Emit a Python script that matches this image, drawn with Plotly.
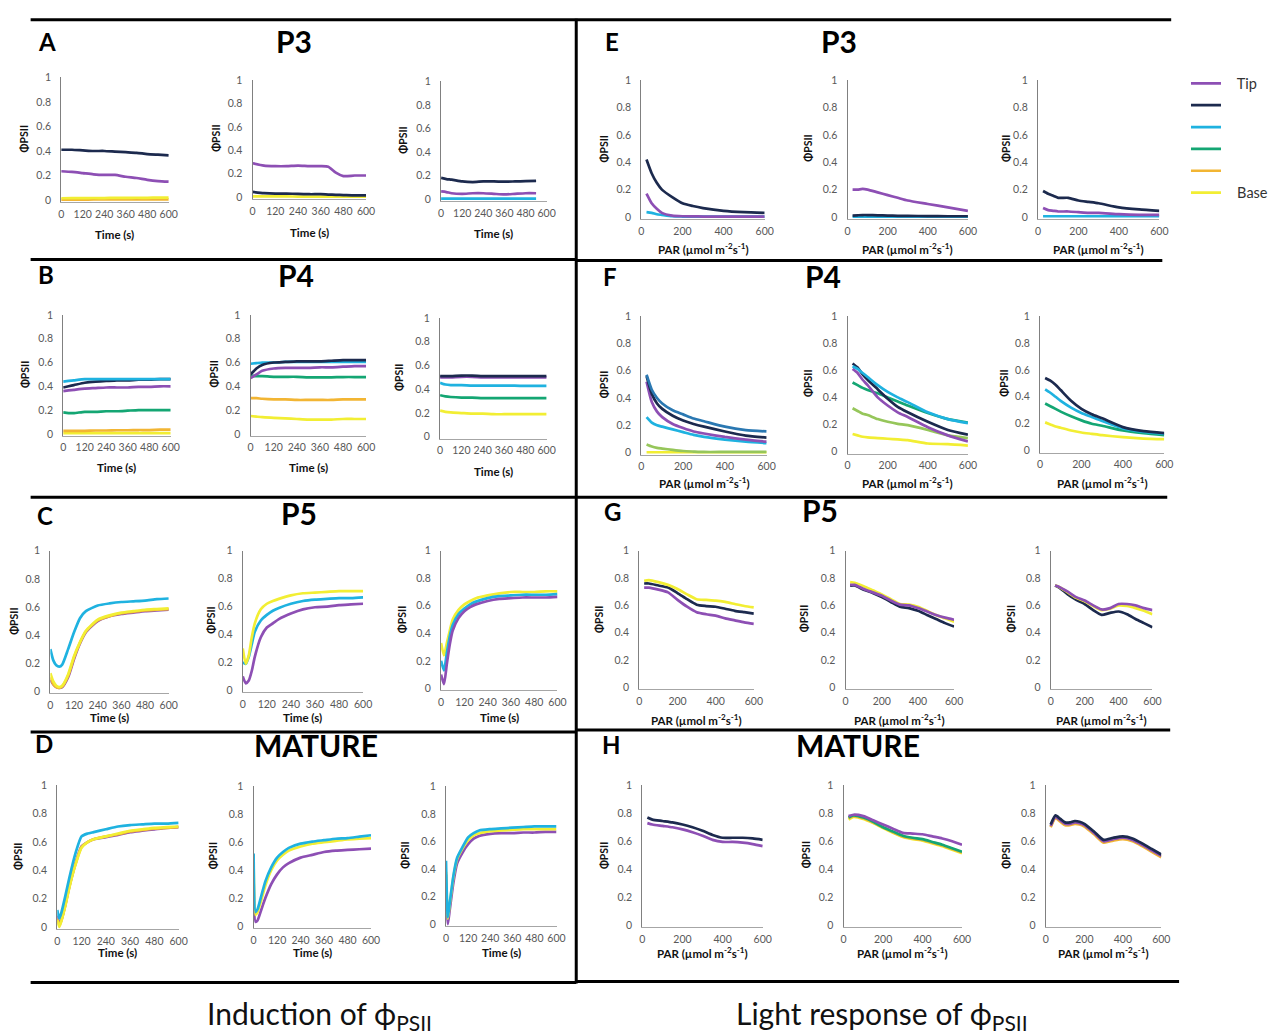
import plotly.graph_objects as go

W, H = 1273, 1036

# ---------------- data: induction of PhiPSII (time, s) ----------------
T_A = [0, 60, 120, 180, 240, 300, 360, 420, 480, 540, 600]
a1_navy = [0.41, 0.41, 0.405, 0.40, 0.40, 0.395, 0.39, 0.385, 0.375, 0.37, 0.365]
a1_purple = [0.235, 0.23, 0.22, 0.21, 0.205, 0.205, 0.19, 0.18, 0.165, 0.155, 0.15]
a1_orange = [0.004, 0.004, 0.004, 0.005, 0.005, 0.005, 0.005, 0.006, 0.006, 0.006, 0.006]
a1_yellow = [0.015, 0.016, 0.016, 0.017, 0.017, 0.018, 0.018, 0.019, 0.019, 0.02, 0.02]

T_A2 = [0, 60, 120, 180, 240, 300, 360, 400, 440, 480, 540, 600]
a2_purple = [0.29, 0.27, 0.265, 0.265, 0.27, 0.265, 0.265, 0.26, 0.21, 0.18, 0.185, 0.185]
a2_navy = [0.045, 0.035, 0.03, 0.03, 0.028, 0.025, 0.025, 0.022, 0.02, 0.018, 0.015, 0.015]
a2_yellow = [0.006, 0.006, 0.006, 0.006, 0.005, 0.005, 0.005, 0.004, 0.004, 0.004, 0.004, 0.004]

T_A3 = [0, 30, 60, 120, 180, 240, 300, 360, 420, 480, 540]
a3_navy = [0.18, 0.17, 0.165, 0.15, 0.145, 0.15, 0.15, 0.148, 0.15, 0.152, 0.155]
a3_purple = [0.065, 0.06, 0.05, 0.045, 0.05, 0.05, 0.045, 0.04, 0.045, 0.05, 0.05]
a3_cyan = [0.004, 0.004, 0.004, 0.004, 0.004, 0.004, 0.004, 0.004, 0.004, 0.004, 0.004]

T_B = [0, 30, 60, 120, 180, 240, 300, 360, 420, 480, 540, 600]
b1_cyan = [0.44, 0.445, 0.45, 0.46, 0.46, 0.46, 0.46, 0.46, 0.46, 0.46, 0.46, 0.46]
b1_navy = [0.39, 0.40, 0.41, 0.43, 0.44, 0.445, 0.45, 0.45, 0.455, 0.455, 0.46, 0.46]
b1_purple = [0.36, 0.365, 0.37, 0.38, 0.385, 0.39, 0.39, 0.39, 0.395, 0.395, 0.40, 0.40]
b1_green = [0.18, 0.175, 0.175, 0.185, 0.185, 0.19, 0.19, 0.195, 0.20, 0.20, 0.20, 0.20]
b1_orange = [0.025, 0.025, 0.025, 0.025, 0.028, 0.028, 0.03, 0.03, 0.032, 0.032, 0.035, 0.035]
b1_yellow = [0.006, 0.006, 0.006, 0.006, 0.006, 0.006, 0.006, 0.006, 0.006, 0.006, 0.006, 0.006]

b2_cyan = [0.59, 0.595, 0.60, 0.60, 0.605, 0.605, 0.605, 0.605, 0.605, 0.605, 0.605, 0.605]
b2_navy = [0.50, 0.55, 0.58, 0.60, 0.605, 0.61, 0.61, 0.61, 0.615, 0.62, 0.62, 0.62]
b2_purple = [0.47, 0.50, 0.53, 0.55, 0.555, 0.555, 0.555, 0.56, 0.56, 0.565, 0.57, 0.57]
b2_green = [0.49, 0.485, 0.485, 0.48, 0.48, 0.48, 0.475, 0.475, 0.475, 0.478, 0.478, 0.478]
b2_orange = [0.30, 0.30, 0.295, 0.29, 0.29, 0.285, 0.285, 0.285, 0.285, 0.29, 0.29, 0.29]
b2_yellow = [0.15, 0.145, 0.14, 0.135, 0.13, 0.125, 0.12, 0.12, 0.12, 0.125, 0.125, 0.125]

b3_navy = [0.51, 0.51, 0.51, 0.515, 0.515, 0.51, 0.51, 0.51, 0.51, 0.51, 0.51, 0.51]
b3_purple = [0.50, 0.50, 0.50, 0.505, 0.505, 0.50, 0.50, 0.50, 0.50, 0.50, 0.50, 0.50]
b3_cyan = [0.455, 0.44, 0.435, 0.435, 0.43, 0.43, 0.43, 0.43, 0.43, 0.428, 0.428, 0.428]
b3_green = [0.35, 0.34, 0.335, 0.33, 0.33, 0.325, 0.325, 0.325, 0.325, 0.325, 0.325, 0.325]
b3_yellow = [0.22, 0.21, 0.205, 0.20, 0.195, 0.195, 0.19, 0.19, 0.19, 0.19, 0.19, 0.19]

T_C = [0, 15, 30, 45, 60, 90, 120, 150, 180, 240, 300, 360, 420, 480, 540, 600]
c1_purple = [0.08, 0.05, 0.03, 0.025, 0.03, 0.10, 0.23, 0.34, 0.42, 0.50, 0.535, 0.55, 0.56, 0.57, 0.575, 0.58]
c1_orange = [0.10, 0.05, 0.03, 0.025, 0.035, 0.11, 0.24, 0.345, 0.425, 0.505, 0.535, 0.555, 0.565, 0.575, 0.58, 0.585]
c1_yellow = [0.13, 0.07, 0.04, 0.03, 0.04, 0.12, 0.25, 0.35, 0.43, 0.51, 0.54, 0.56, 0.57, 0.58, 0.585, 0.59]
c1_cyan = [0.30, 0.22, 0.185, 0.175, 0.19, 0.30, 0.42, 0.52, 0.57, 0.61, 0.625, 0.635, 0.64, 0.645, 0.655, 0.66]

c2_purple = [0.10, 0.05, 0.07, 0.14, 0.24, 0.38, 0.45, 0.48, 0.51, 0.55, 0.58, 0.595, 0.60, 0.61, 0.615, 0.62]
c2_cyan = [0.20, 0.19, 0.24, 0.33, 0.42, 0.50, 0.54, 0.57, 0.59, 0.62, 0.64, 0.65, 0.655, 0.66, 0.66, 0.665]
c2_yellow = [0.30, 0.19, 0.25, 0.38, 0.48, 0.58, 0.62, 0.64, 0.655, 0.68, 0.695, 0.70, 0.705, 0.71, 0.71, 0.71]

c3_purple = [0.10, 0.03, 0.18, 0.32, 0.42, 0.51, 0.56, 0.59, 0.61, 0.635, 0.65, 0.655, 0.66, 0.66, 0.66, 0.665]
c3_cyan = [0.20, 0.13, 0.26, 0.38, 0.46, 0.54, 0.58, 0.61, 0.63, 0.655, 0.67, 0.675, 0.68, 0.68, 0.68, 0.685]
c3_yellow = [0.33, 0.24, 0.33, 0.42, 0.50, 0.57, 0.61, 0.635, 0.655, 0.675, 0.69, 0.70, 0.70, 0.70, 0.705, 0.705]

T_D = [0, 10, 20, 40, 60, 90, 120, 150, 180, 240, 300, 360, 420, 480, 540, 600]
d1_purple = [0.08, 0.02, 0.05, 0.16, 0.29, 0.45, 0.57, 0.60, 0.62, 0.635, 0.65, 0.67, 0.68, 0.69, 0.70, 0.705]
d1_orange = [0.06, 0.01, 0.045, 0.155, 0.285, 0.445, 0.565, 0.60, 0.62, 0.64, 0.655, 0.675, 0.685, 0.695, 0.70, 0.705]
d1_yellow = [0.05, 0.0, 0.04, 0.15, 0.28, 0.44, 0.56, 0.60, 0.62, 0.64, 0.66, 0.68, 0.69, 0.70, 0.705, 0.71]
d1_cyan = [0.12, 0.06, 0.10, 0.22, 0.35, 0.52, 0.64, 0.66, 0.67, 0.69, 0.71, 0.72, 0.725, 0.73, 0.73, 0.735]

d2_purple = [0.35, 0.03, 0.04, 0.12, 0.20, 0.30, 0.37, 0.42, 0.45, 0.49, 0.51, 0.53, 0.54, 0.545, 0.55, 0.555]
d2_yellow = [0.45, 0.08, 0.10, 0.19, 0.29, 0.40, 0.47, 0.51, 0.54, 0.57, 0.59, 0.60, 0.61, 0.62, 0.625, 0.63]
d2_cyan = [0.52, 0.10, 0.12, 0.22, 0.32, 0.42, 0.49, 0.53, 0.56, 0.59, 0.605, 0.615, 0.625, 0.63, 0.64, 0.65]

d3_purple = [0.36, 0.0, 0.10, 0.30, 0.44, 0.52, 0.58, 0.62, 0.64, 0.655, 0.66, 0.66, 0.665, 0.665, 0.67, 0.67]
d3_yellow = [0.38, 0.04, 0.14, 0.34, 0.47, 0.55, 0.61, 0.645, 0.66, 0.675, 0.68, 0.685, 0.69, 0.69, 0.69, 0.69]
d3_cyan = [0.46, 0.05, 0.15, 0.35, 0.48, 0.56, 0.63, 0.66, 0.68, 0.69, 0.695, 0.70, 0.705, 0.71, 0.71, 0.71]

# ---------------- data: light response of PhiPSII (PAR) ----------------
PAR_EF = [25, 50, 75, 100, 150, 200, 250, 300, 400, 500, 600]
e1_cyan = [0.035, 0.03, 0.02, 0.015, 0.005, 0.003, 0.002, 0.002, 0.002, 0.002, 0.002]
e1_purple = [0.17, 0.10, 0.06, 0.03, 0.01, 0.005, 0.004, 0.003, 0.003, 0.003, 0.003]
e1_navy = [0.42, 0.32, 0.25, 0.20, 0.145, 0.10, 0.08, 0.065, 0.045, 0.035, 0.03]

e2_cyan = [0.003, 0.003, 0.003, 0.003, 0.003, 0.003, 0.003, 0.003, 0.003, 0.003, 0.003]
e2_navy = [0.01, 0.012, 0.014, 0.014, 0.012, 0.01, 0.008, 0.008, 0.006, 0.005, 0.005]
e2_purple = [0.20, 0.20, 0.205, 0.20, 0.18, 0.16, 0.14, 0.12, 0.095, 0.07, 0.045]

e3_cyan = [0.005, 0.005, 0.005, 0.005, 0.005, 0.005, 0.005, 0.005, 0.005, 0.005, 0.005]
e3_purple = [0.065, 0.05, 0.045, 0.04, 0.04, 0.035, 0.03, 0.03, 0.02, 0.015, 0.015]
e3_navy = [0.19, 0.17, 0.155, 0.14, 0.14, 0.12, 0.11, 0.10, 0.07, 0.055, 0.045]

f1_yellow = [0.003, 0.003, 0.003, 0.003, 0.003, 0.003, 0.003, 0.003, 0.003, 0.003, 0.003]
f1_lime = [0.06, 0.045, 0.035, 0.03, 0.02, 0.012, 0.008, 0.005, 0.005, 0.005, 0.005]
f1_cyan = [0.26, 0.22, 0.20, 0.19, 0.17, 0.15, 0.13, 0.115, 0.095, 0.08, 0.07]
f1_purple = [0.52, 0.37, 0.30, 0.26, 0.21, 0.18, 0.155, 0.14, 0.115, 0.095, 0.08]
f1_navy = [0.56, 0.43, 0.36, 0.32, 0.27, 0.235, 0.21, 0.19, 0.155, 0.125, 0.11]
f1_blue = [0.57, 0.46, 0.40, 0.36, 0.31, 0.28, 0.25, 0.23, 0.19, 0.165, 0.155]

f2_yellow = [0.13, 0.12, 0.11, 0.105, 0.10, 0.095, 0.09, 0.085, 0.06, 0.055, 0.045]
f2_lime = [0.32, 0.30, 0.28, 0.27, 0.24, 0.22, 0.205, 0.195, 0.16, 0.12, 0.10]
f2_green = [0.51, 0.49, 0.47, 0.455, 0.43, 0.40, 0.37, 0.34, 0.285, 0.24, 0.215]
f2_purple = [0.61, 0.58, 0.53, 0.49, 0.40, 0.34, 0.29, 0.255, 0.18, 0.12, 0.075]
f2_navy = [0.65, 0.62, 0.57, 0.53, 0.46, 0.39, 0.33, 0.29, 0.22, 0.16, 0.125]
f2_cyan = [0.63, 0.61, 0.58, 0.55, 0.49, 0.44, 0.40, 0.365, 0.29, 0.24, 0.21]

f3_yellow = [0.21, 0.195, 0.18, 0.17, 0.15, 0.135, 0.125, 0.115, 0.10, 0.09, 0.085]
f3_green = [0.35, 0.33, 0.31, 0.29, 0.255, 0.225, 0.20, 0.185, 0.15, 0.13, 0.115]
f3_cyan = [0.455, 0.43, 0.40, 0.37, 0.32, 0.28, 0.25, 0.22, 0.165, 0.14, 0.125]
f3_navy = [0.54, 0.52, 0.49, 0.45, 0.37, 0.31, 0.27, 0.24, 0.175, 0.145, 0.13]

PAR_GH = [25, 50, 100, 150, 200, 250, 300, 350, 400, 450, 500, 550, 600]
g1_purple = [0.73, 0.73, 0.715, 0.695, 0.64, 0.59, 0.55, 0.535, 0.525, 0.505, 0.49, 0.475, 0.465]
g1_navy = [0.76, 0.76, 0.745, 0.73, 0.69, 0.645, 0.605, 0.595, 0.59, 0.575, 0.56, 0.55, 0.54]
g1_yellow = [0.78, 0.785, 0.77, 0.75, 0.72, 0.68, 0.645, 0.64, 0.635, 0.625, 0.61, 0.595, 0.585]

g2_navy = [0.745, 0.745, 0.715, 0.69, 0.66, 0.625, 0.59, 0.58, 0.56, 0.53, 0.50, 0.47, 0.445]
g2_yellow = [0.77, 0.765, 0.74, 0.71, 0.68, 0.645, 0.61, 0.605, 0.59, 0.56, 0.53, 0.505, 0.48]
g2_purple = [0.75, 0.75, 0.72, 0.695, 0.67, 0.635, 0.605, 0.60, 0.58, 0.555, 0.53, 0.51, 0.495]

g3_navy = [0.745, 0.73, 0.68, 0.64, 0.61, 0.565, 0.53, 0.545, 0.555, 0.535, 0.50, 0.47, 0.44]
g3_yellow = [0.745, 0.735, 0.695, 0.655, 0.63, 0.595, 0.565, 0.575, 0.60, 0.595, 0.58, 0.56, 0.535]
g3_purple = [0.745, 0.735, 0.70, 0.66, 0.635, 0.60, 0.57, 0.58, 0.61, 0.61, 0.60, 0.58, 0.565]

h1_purple = [0.73, 0.72, 0.71, 0.70, 0.685, 0.665, 0.64, 0.61, 0.595, 0.595, 0.59, 0.58, 0.565]
h1_navy = [0.77, 0.755, 0.745, 0.735, 0.72, 0.70, 0.675, 0.645, 0.625, 0.625, 0.625, 0.62, 0.61]

h2_yellow = [0.755, 0.775, 0.76, 0.73, 0.695, 0.66, 0.63, 0.615, 0.605, 0.585, 0.565, 0.54, 0.515]
h2_orange = [0.765, 0.78, 0.765, 0.735, 0.70, 0.665, 0.635, 0.62, 0.61, 0.59, 0.57, 0.545, 0.52]
h2_green = [0.77, 0.785, 0.77, 0.74, 0.70, 0.67, 0.64, 0.625, 0.615, 0.595, 0.575, 0.55, 0.525]
h2_purple = [0.78, 0.79, 0.78, 0.75, 0.72, 0.69, 0.66, 0.655, 0.65, 0.635, 0.62, 0.60, 0.575]

PAR_H3 = [25, 50, 75, 100, 125, 150, 175, 200, 250, 300, 350, 400, 450, 500, 550, 600]
h3_yellow = [0.705, 0.77, 0.745, 0.72, 0.72, 0.73, 0.725, 0.71, 0.655, 0.595, 0.61, 0.62, 0.605, 0.57, 0.53, 0.49]
h3_orange = [0.70, 0.765, 0.74, 0.715, 0.715, 0.725, 0.72, 0.705, 0.65, 0.59, 0.605, 0.615, 0.60, 0.565, 0.525, 0.485]
h3_purple = [0.71, 0.775, 0.75, 0.725, 0.725, 0.735, 0.73, 0.715, 0.66, 0.60, 0.615, 0.625, 0.61, 0.575, 0.535, 0.495]
h3_navy = [0.72, 0.785, 0.76, 0.735, 0.735, 0.745, 0.74, 0.725, 0.67, 0.61, 0.625, 0.635, 0.62, 0.585, 0.545, 0.505]

TIME_TICKS = [0, 120, 240, 360, 480, 600]
PAR_TICKS = [0, 200, 400, 600]
Y_TICKS = [0, 0.2, 0.4, 0.6, 0.8, 1]

# ---------------- styling ----------------
COLORS = {
    "purple": "#8d4fb4",
    "navy": "#1c2a4e",
    "cyan": "#1fb2e0",
    "green": "#14a673",
    "orange": "#f2b533",
    "yellow": "#f2ee33",
    "blue": "#2a78b2",
    "lime": "#96c65a",
}
LEGEND_NAMES = {"purple": "Tip", "navy": "", "cyan": "", "green": "",
                "orange": "", "yellow": "Base"}
LEGEND_RANK = {"purple": 1, "navy": 2, "cyan": 3, "green": 4, "orange": 5, "yellow": 6}

# (key, x values, x-axis kind, [(colour, values)] in drawing order)
PANELS = [
    ("A1", T_A, "time", [("orange", a1_orange), ("yellow", a1_yellow), ("purple", a1_purple), ("navy", a1_navy)]),
    ("A2", T_A2, "time", [("yellow", a2_yellow), ("navy", a2_navy), ("purple", a2_purple)]),
    ("A3", T_A3, "time", [("cyan", a3_cyan), ("purple", a3_purple), ("navy", a3_navy)]),
    ("B1", T_B, "time", [("yellow", b1_yellow), ("orange", b1_orange), ("green", b1_green), ("purple", b1_purple), ("navy", b1_navy), ("cyan", b1_cyan)]),
    ("B2", T_B, "time", [("yellow", b2_yellow), ("orange", b2_orange), ("green", b2_green), ("purple", b2_purple), ("cyan", b2_cyan), ("navy", b2_navy)]),
    ("B3", T_B, "time", [("yellow", b3_yellow), ("green", b3_green), ("cyan", b3_cyan), ("purple", b3_purple), ("navy", b3_navy)]),
    ("C1", T_C, "time", [("purple", c1_purple), ("orange", c1_orange), ("yellow", c1_yellow), ("cyan", c1_cyan)]),
    ("C2", T_C, "time", [("purple", c2_purple), ("cyan", c2_cyan), ("yellow", c2_yellow)]),
    ("C3", T_C, "time", [("yellow", c3_yellow), ("cyan", c3_cyan), ("purple", c3_purple)]),
    ("D1", T_D, "time", [("purple", d1_purple), ("orange", d1_orange), ("yellow", d1_yellow), ("cyan", d1_cyan)]),
    ("D2", T_D, "time", [("purple", d2_purple), ("yellow", d2_yellow), ("cyan", d2_cyan)]),
    ("D3", T_D, "time", [("purple", d3_purple), ("yellow", d3_yellow), ("cyan", d3_cyan)]),
    ("E1", PAR_EF, "par", [("cyan", e1_cyan), ("purple", e1_purple), ("navy", e1_navy)]),
    ("E2", PAR_EF, "par", [("cyan", e2_cyan), ("navy", e2_navy), ("purple", e2_purple)]),
    ("E3", PAR_EF, "par", [("cyan", e3_cyan), ("purple", e3_purple), ("navy", e3_navy)]),
    ("F1", PAR_EF, "par", [("yellow", f1_yellow), ("lime", f1_lime), ("cyan", f1_cyan), ("purple", f1_purple), ("navy", f1_navy), ("blue", f1_blue)]),
    ("F2", PAR_EF, "par", [("yellow", f2_yellow), ("lime", f2_lime), ("green", f2_green), ("purple", f2_purple), ("navy", f2_navy), ("cyan", f2_cyan)]),
    ("F3", PAR_EF, "par", [("yellow", f3_yellow), ("green", f3_green), ("cyan", f3_cyan), ("navy", f3_navy)]),
    ("G1", PAR_GH, "par", [("purple", g1_purple), ("navy", g1_navy), ("yellow", g1_yellow)]),
    ("G2", PAR_GH, "par", [("navy", g2_navy), ("yellow", g2_yellow), ("purple", g2_purple)]),
    ("G3", PAR_GH, "par", [("navy", g3_navy), ("yellow", g3_yellow), ("purple", g3_purple)]),
    ("H1", PAR_GH, "par", [("purple", h1_purple), ("navy", h1_navy)]),
    ("H2", PAR_GH, "par", [("yellow", h2_yellow), ("orange", h2_orange), ("green", h2_green), ("purple", h2_purple)]),
    ("H3", PAR_H3, "par", [("yellow", h3_yellow), ("orange", h3_orange), ("purple", h3_purple), ("navy", h3_navy)]),
]

# plot-area placement in px: x at 0, x at 600, y at 0, y at 1, y-title x, x-title y
GEOM = {
    "A1": (59, 168, 196, 72, 21, 231), "A2": (253, 368, 193, 75, 216, 229), "A3": (444, 551, 195, 76, 406, 230),
    "B1": (61, 170, 432, 312, 23, 466), "B2": (251, 368, 432, 312, 214, 466), "B3": (443, 551, 435, 315, 402, 470),
    "C1": (48, 168, 692, 550, 11, 718), "C2": (243, 365, 691, 550, 210, 718), "C3": (444, 562, 689, 550, 404, 718),
    "D1": (55, 178, 930, 787, 15, 956), "D2": (254, 373, 929, 788, 213, 956), "D3": (449, 561, 927, 788, 408, 956),
    "E1": (647, 772, 213, 75, 609, 245), "E2": (856, 978, 213, 75, 816, 245), "E3": (1049, 1172, 213, 75, 1016, 245),
    "F1": (647, 774, 451, 313, 609, 481), "F2": (856, 978, 450, 313, 816, 481), "F3": (1051, 1177, 449, 313, 1015, 481),
    "G1": (645, 761, 688, 550, 604, 720), "G2": (854, 964, 688, 550, 812, 720), "G3": (1062, 1165, 688, 550, 1022, 720),
    "H1": (648, 770, 928, 787, 609, 956), "H2": (852, 972, 928, 787, 814, 956), "H3": (1057, 1174, 928, 787, 1017, 956),
}

FONT = "Lato, 'Open Sans', sans-serif"
TICK_FONT = dict(family=FONT, size=10.5, color="#595959")
YPAD = 0.015


def px(x):
    return x / W


def py(y):
    return 1 - y / H


fig = go.Figure()
annotations = []
layout_axes = {}
seen = set()

for i, (key, xs, kind, series) in enumerate(PANELS):
    n = i + 1
    suffix = "" if n == 1 else str(n)
    xl, xr, y0, y1, ytx, xty = GEOM[key]

    for cname, ys in series:
        show = cname in LEGEND_NAMES and cname not in seen
        if show:
            seen.add(cname)
        label = LEGEND_NAMES.get(cname, "")
        fig.add_trace(go.Scatter(
            x=xs, y=ys, mode="lines",
            line=dict(color=COLORS[cname], width=2.7, shape="spline", smoothing=0.6),
            name=("\u00a0\u00a0\u00a0" + label) if label else "\u00a0",
            legendgroup=cname, showlegend=show,
            legendrank=LEGEND_RANK.get(cname, 99),
            xaxis="x" + suffix, yaxis="y" + suffix, hoverinfo="skip",
        ))

    ybot = y0 + YPAD * (y0 - y1)
    layout_axes["xaxis" + suffix] = dict(
        domain=[px(xl), px(xr)], anchor="y" + suffix, range=[0, 600],
        tickvals=TIME_TICKS if kind == "time" else PAR_TICKS, tickangle=0,
        showline=True, linecolor="#a6a6a6", linewidth=1.2, showgrid=False,
        zeroline=False, ticks="", tickfont=TICK_FONT, ticklabelstandoff=2,
        fixedrange=True,
    )
    layout_axes["yaxis" + suffix] = dict(
        domain=[py(ybot), py(y1)], anchor="x" + suffix, range=[-YPAD, 1],
        tickvals=Y_TICKS, ticktext=["0", "0.2", "0.4", "0.6", "0.8", "1"],
        showline=True, linecolor="#808080", linewidth=1.2, showgrid=False,
        zeroline=False, ticks="", tickfont=TICK_FONT, ticklabelstandoff=7,
        fixedrange=True,
    )

    annotations.append(dict(
        text="<b>ΦPSII</b>", textangle=-90, x=px(ytx), y=py((y0 + y1) / 2),
        xref="paper", yref="paper", showarrow=False, xanchor="center", yanchor="middle",
        font=dict(family=FONT, size=10.5, color="#111111"),
    ))
    xtitle = "<b>Time (s)</b>" if kind == "time" else "<b>PAR (µmol m<sup>-2</sup>s<sup>-1</sup>)</b>"
    annotations.append(dict(
        text=xtitle, x=px((xl + xr) / 2), y=py(xty), xref="paper", yref="paper",
        showarrow=False, xanchor="center", yanchor="middle",
        font=dict(family=FONT, size=11.5, color="#111111"),
    ))

# panel letters and stage headings
HEADINGS = [
    ("A", 45, 36, 24), ("P3", 295, 35, 30), ("B", 44, 271, 24), ("P4", 297, 272, 30),
    ("C", 43, 514, 24), ("P5", 300, 512, 30), ("D", 42, 745, 24), ("MATURE", 317, 746, 30),
    ("E", 617, 36, 24), ("P3", 847, 35, 30), ("F", 615, 273, 24), ("P4", 831, 273, 30),
    ("G", 618, 510, 24), ("P5", 828, 509, 30), ("H", 617, 746, 24), ("MATURE", 867, 746, 30),
]
for txt, hx, hy, size in HEADINGS:
    annotations.append(dict(
        text="<b>%s</b>" % txt, x=px(hx), y=py(hy), xref="paper", yref="paper",
        showarrow=False, xanchor="center", yanchor="middle",
        font=dict(family=FONT, size=size, color="#000000"),
    ))

# bottom captions
for txt, bx in [("Induction of ϕ<sub>PSII</sub>", 321), ("Light response of ϕ<sub>PSII</sub>", 891)]:
    annotations.append(dict(
        text=txt, x=px(bx), y=py(1019), xref="paper", yref="paper",
        showarrow=False, xanchor="center", yanchor="middle",
        font=dict(family=FONT, size=30, color="#111111"),
    ))

# frame lines separating the panel blocks
RULES = [
    (28, 14, 1184, 14), (581, 13, 581, 987),
    (28, 256, 581, 256), (28, 496, 581, 496), (28, 733, 581, 733), (28, 986, 581, 986),
    (581, 257, 1175, 257), (581, 496, 1180, 496), (581, 731, 1183, 731), (581, 985, 1192, 985),
]
shapes = [dict(type="line", xref="paper", yref="paper", x0=px(a), y0=py(b), x1=px(c), y1=py(d),
               line=dict(color="#000000", width=3)) for a, b, c, d in RULES]

fig.update_layout(
    width=W, height=H, margin=dict(l=0, r=0, t=0, b=0),
    paper_bgcolor="white", plot_bgcolor="white",
    annotations=annotations, shapes=shapes,
    showlegend=True,
    legend=dict(x=px(1199), y=py(62), xanchor="left", yanchor="top",
                traceorder="normal", bgcolor="rgba(0,0,0,0)",
                font=dict(family=FONT, size=14.5, color="#333333"),
                itemwidth=30, tracegroupgap=0),
    **layout_axes,
)

fig.write_html("out.html")
